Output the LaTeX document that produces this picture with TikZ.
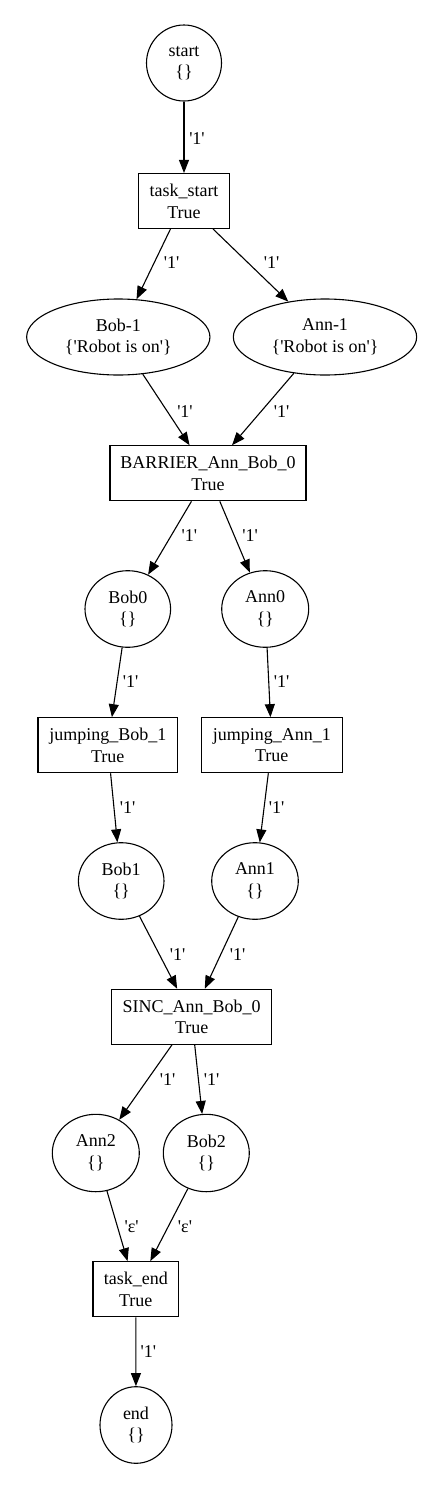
\documentclass[tikz,border=0pt]{standalone}
\usepackage{fontspec}
\setmainfont{Liberation Serif}[Ligatures=TeXOff]
\usetikzlibrary{shapes.geometric,arrows.meta}
\begin{document}
\begin{tikzpicture}[x=1pt,y=-1pt,
  every node/.style={font=\fontsize{18}{21.7}\selectfont, inner sep=0pt, align=center},
  place/.style={draw, ellipse, line width=1.1pt},
  trans/.style={draw, rectangle, line width=1.1pt, minimum height=55pt},
  lbl/.style={},
  arc/.style={draw, line width=1.1pt, -{Triangle[length=13pt,width=10pt]}}]
\useasboundingbox (0,0) rectangle (444,1491);
\fill[white] (0,0) rectangle (444,1491);
% places and transitions
\node[place, minimum width=75pt, minimum height=76pt] (start) at (184,63) {start\\\{\}};
\node[trans, minimum width=90.7pt] (ts) at (184,201) {task\_start\\True};
\node[place, minimum width=183.3pt, minimum height=76pt] (bobm1) at (118.3,337) {Bob-1\\\{'Robot is on'\}};
\node[place, minimum width=183.3pt, minimum height=76pt] (annm1) at (325,337) {Ann-1\\\{'Robot is on'\}};
\node[trans, minimum width=196pt] (bar) at (208,473.3) {BARRIER\_Ann\_Bob\_0\\True};
\node[place, minimum width=85.6pt, minimum height=76.6pt] (bob0) at (127.8,609) {Bob0\\\{\}};
\node[place, minimum width=87pt, minimum height=76.6pt] (ann0) at (265.2,609) {Ann0\\\{\}};
\node[trans, minimum width=139.7pt] (jb1) at (107.8,745.2) {jumping\_Bob\_1\\True};
\node[trans, minimum width=141pt] (ja1) at (271.8,745.2) {jumping\_Ann\_1\\True};
\node[place, minimum width=85.6pt, minimum height=76.6pt] (bob1) at (121.2,881) {Bob1\\\{\}};
\node[place, minimum width=86.6pt, minimum height=76.6pt] (ann1) at (255,881) {Ann1\\\{\}};
\node[trans, minimum width=160pt] (sinc) at (191.7,1016.8) {SINC\_Ann\_Bob\_0\\True};
\node[place, minimum width=87pt, minimum height=77.4pt] (ann2) at (95.8,1153) {Ann2\\\{\}};
\node[place, minimum width=86pt, minimum height=77.4pt] (bob2) at (206.3,1153) {Bob2\\\{\}};
\node[trans, minimum width=85.7pt] (te) at (135.8,1289.2) {task\_end\\True};
\node[place, minimum width=72pt, minimum height=76.6pt] (end) at (136,1425) {end\\\{\}};
% arcs
\draw[arc] (start) -- (ts);
\draw[arc] (ts) -- (bobm1);
\draw[arc] (ts) -- (annm1);
\draw[arc] (bobm1) -- (bar);
\draw[arc] (annm1) -- (bar);
\draw[arc] (bar) -- (bob0);
\draw[arc] (bar) -- (ann0);
\draw[arc] (bob0) -- (jb1);
\draw[arc] (ann0) -- (ja1);
\draw[arc] (jb1) -- (bob1);
\draw[arc] (ja1) -- (ann1);
\draw[arc] (bob1) -- (sinc);
\draw[arc] (ann1) -- (sinc);
\draw[arc] (sinc) -- (ann2);
\draw[arc] (sinc) -- (bob2);
\draw[arc] (ann2) -- (te);
\draw[arc] (bob2) -- (te);
\draw[arc] (te) -- (end);
% arc labels
\node[lbl] (l0) at (197,139) {'1'};
\node[lbl] (l1) at (171.7,263) {'1'};
\node[lbl] (l2) at (271.7,263) {'1'};
\node[lbl] (l3) at (185,411.7) {'1'};
\node[lbl] (l4) at (281.7,411.7) {'1'};
\node[lbl] (l5) at (189.3,536) {'1'};
\node[lbl] (l6) at (250,536) {'1'};
\node[lbl] (l7) at (130.7,681.7) {'1'};
\node[lbl] (l8) at (281.7,681.7) {'1'};
\node[lbl] (l9) at (127.7,807.7) {'1'};
\node[lbl] (l10) at (276.7,807.7) {'1'};
\node[lbl] (l11) at (177.7,955) {'1'};
\node[lbl] (l12) at (237.7,955) {'1'};
\node[lbl] (l13) at (167.7,1079.3) {'1'};
\node[lbl] (l14) at (211.7,1079.3) {'1'};
\node[lbl] (l15) at (131.7,1226.7) {'ε'};
\node[lbl] (l16) at (185,1226.7) {'ε'};
\node[lbl] (l17) at (148.3,1351.7) {'1'};
\end{tikzpicture}
\end{document}
